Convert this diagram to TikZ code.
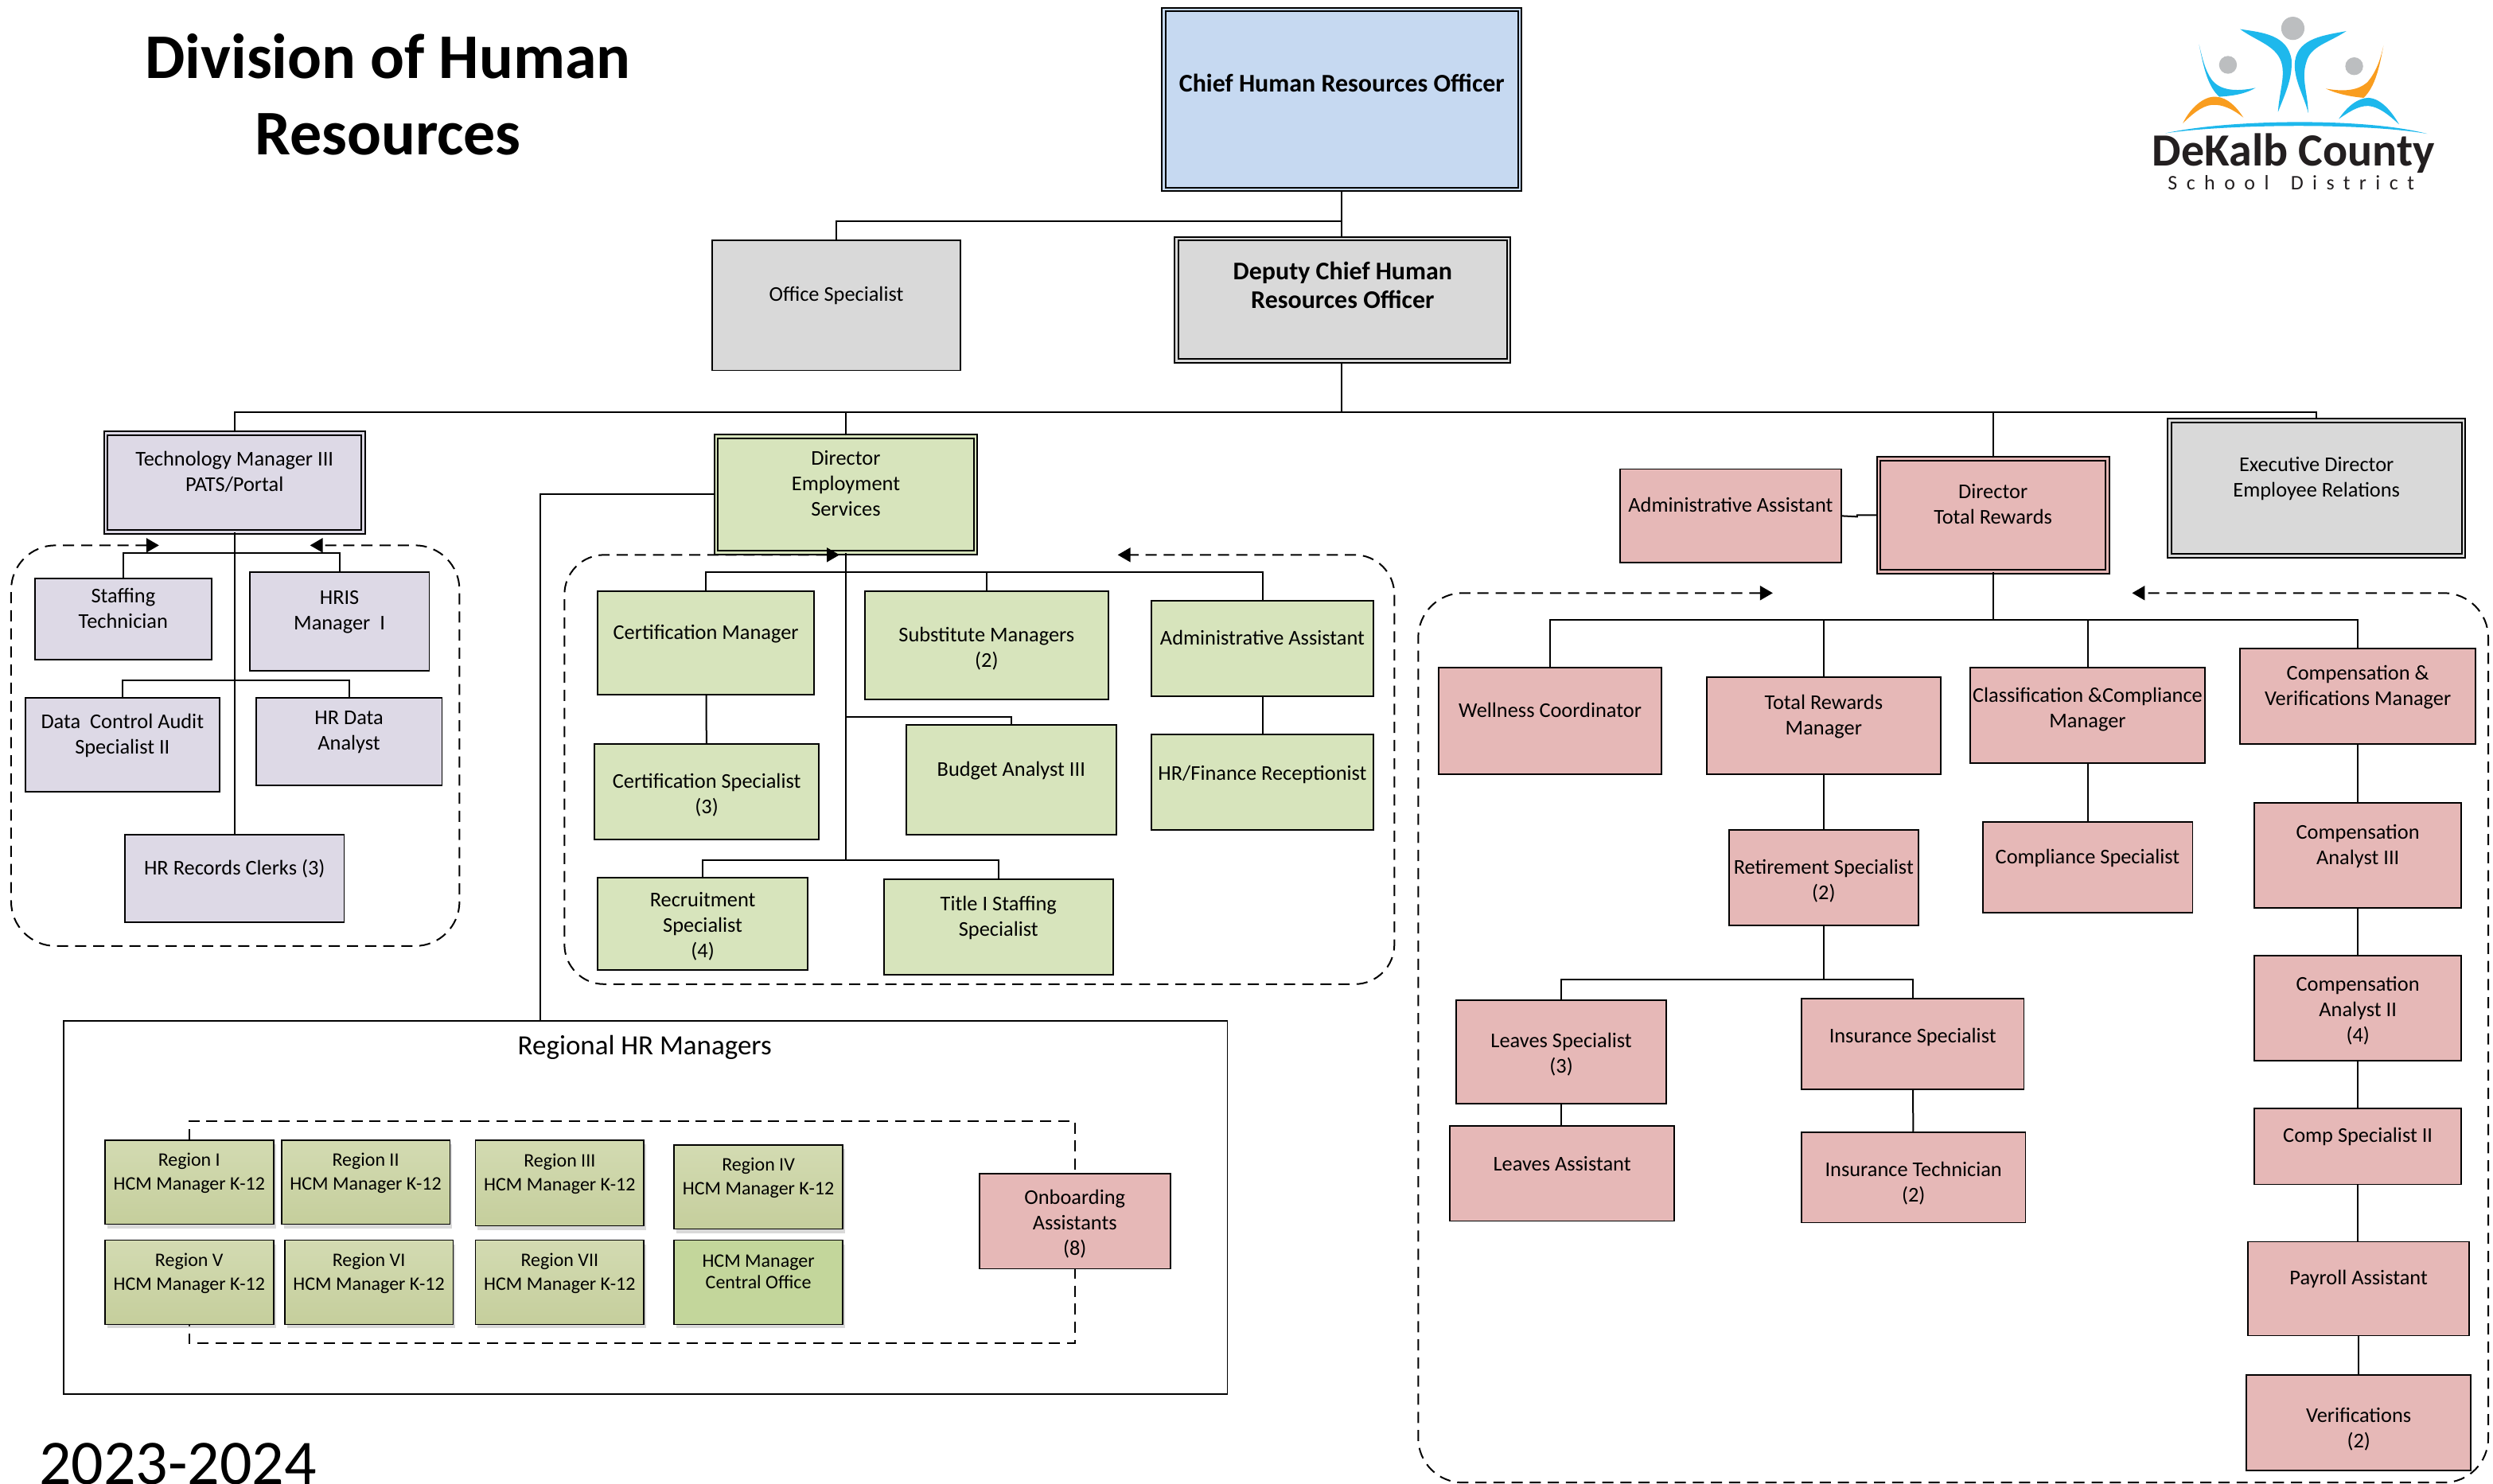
\documentclass[tikz,border=0pt]{standalone}
\usepackage{fontspec}
\setmainfont{Carlito}
\newfontfamily\logosmall[LetterSpace=44]{Carlito}
\usetikzlibrary{arrows.meta, positioning, shadows}
\definecolor{purplefill}{HTML}{DDD9E6}
\definecolor{greenfill}{HTML}{D7E4BC}
\definecolor{pinkfill}{HTML}{E6B8B7}
\definecolor{grayfill}{HTML}{D9D9D9}
\definecolor{bluefill}{HTML}{C6D9F1}
\definecolor{regiontop}{HTML}{D3DBB2}
\definecolor{regionbot}{HTML}{C5CE9C}
\definecolor{centralfill}{HTML}{C3D69B}
\definecolor{logoblue}{HTML}{1EB8EC}
\definecolor{logoorange}{HTML}{F99D1F}
\definecolor{logogray}{HTML}{BCBEC0}
\definecolor{logoink}{HTML}{231F20}
\newcommand{\tailline}{\\[-2pt]~}
\newcommand{\noline}{\\[-18pt]~}
\tikzset{>={Triangle[length=8pt,width=9pt]},
	box/.style={draw, line width=.9pt, inner sep=0pt, align=center, font=\fontsize{13.2}{16}\selectfont},
	purplebox/.style={box, fill=purplefill},
	greenbox/.style={box, fill=greenfill},
	pinkbox/.style={box, fill=pinkfill},
	graybox/.style={box, fill=grayfill},
	bluebox/.style={box, fill=bluefill},
	headbox/.style={double=#1, double distance=1.2pt, line width=1pt},
	regionbox/.style={box, top color=regiontop, bottom color=regionbot, font=\fontsize{12}{15}\selectfont, drop shadow={shadow xshift=1.5pt, shadow yshift=-2.5pt, fill=gray, opacity=.3}},
	link/.style={line width=1pt},
	dashline/.style={line width=1pt, dash pattern=on 7pt off 4.4pt},
}

\begin{document}
\begin{tikzpicture}[x=1pt, y=-1pt]
	\useasboundingbox (0,0) rectangle (1568,933);

	\node[align=center, font=\fontsize{40}{48}\selectfont\bfseries] (title) at (244,59.5) {Division of Human\\Resources};
	\node[anchor=base west, font=\fontsize{40}{40}\selectfont] (year) at (21,933.5) {2023-2024};

	%top of the chart
	\node[bluebox, headbox=bluefill, minimum width=224, minimum height=113, font=\fontsize{16}{18}\selectfont\bfseries] (chief) at (844,62.5) {Chief Human Resources Officer\\[3pt]~};
	\node[graybox, minimum width=156, minimum height=82] (office) at (526,192) {Office Specialist\tailline};
	\node[graybox, headbox=grayfill, minimum width=209, minimum height=77, font=\fontsize{16}{18}\selectfont\bfseries] (deputy) at (844.5,188.5) {Deputy Chief Human\\Resources Officer\\~};
	\coordinate (busA) at (844,139);
	\coordinate (busB) at (844,259);
	\draw[link] (chief.south) |- (busA) -- (deputy.north -| busA);
	\draw[link] (office.north) |- (busA);
	\draw[link] (deputy.south -| busB) -- (busB);

	%technology
	\node[purplebox, headbox=purplefill, minimum width=162, minimum height=62] (tech) at (147.5,303.5) {Technology Manager III\\PATS/Portal\tailline};
	\node[purplebox, minimum width=111, minimum height=51] (staffing) at (77.5,389.5) {Staffing\\Technician\tailline};
	\node[purplebox, minimum width=113, minimum height=62] (hris) at (213.5,391) {HRIS\\Manager~ I\tailline};
	\node[purplebox, minimum width=122, minimum height=59] (audit) at (77,468.5) {Data~ Control Audit\\Specialist II\tailline};
	\node[purplebox, minimum width=117, minimum height=55] (hrdata) at (219.5,466.5) {HR Data\\Analyst\tailline};
	\node[purplebox, minimum width=138, minimum height=55] (clerks) at (147.5,552.5) {HR Records Clerks (3)\tailline};
	\coordinate (busC) at (147.5,348);
	\coordinate (busD) at (147.5,428);
	\draw[link] (tech.north) |- (busB);
	\draw[link] (tech) -- (clerks);
	\draw[link] (staffing.north) |- (busC);
	\draw[link] (hris.north) |- (busC);
	\draw[link] (audit.north) |- (busD);
	\draw[link] (hrdata.north) |- (busD);
	\draw[dashline, rounded corners=28pt, <->] (100,343) -- (7,343) -- (7,595) -- (289,595) -- (289,343) -- (195,343);

	%employment services
	\node[greenbox, headbox=greenfill, minimum width=163, minimum height=73] (diremp) at (532,311) {Director\\Employment\\Services\tailline};
	\node[greenbox, minimum width=136, minimum height=65] (certmgr) at (444,404.5) {Certification Manager\tailline};
	\node[greenbox, minimum width=153, minimum height=68] (subst) at (620.5,406) {Substitute Managers\\(2)\noline};
	\node[greenbox, minimum width=140, minimum height=60] (adminemp) at (794,408) {Administrative Assistant\tailline};
	\node[greenbox, minimum width=141, minimum height=60] (certspec) at (444.5,498) {Certification Specialist\\(3)\noline};
	\node[greenbox, minimum width=132, minimum height=69] (budget) at (636,490.5) {Budget Analyst III\tailline};
	\node[greenbox, minimum width=140, minimum height=60] (finance) at (794,492) {HR/Finance Receptionist\\[-4pt]~};
	\node[greenbox, minimum width=132, minimum height=58] (recruit) at (442,581) {Recruitment\\Specialist\\(4)\noline};
	\node[greenbox, minimum width=144, minimum height=60] (titleone) at (628,583) {Title I Staffing\\Specialist\tailline};
	\coordinate (busE) at (532,360);
	\coordinate (busF) at (532,451);
	\coordinate (busG) at (532,541);
	\draw[link] (diremp.north) |- (busB);
	\draw[link] (diremp.south) -- (busG);
	\draw[link] (certmgr.north) |- (busE);
	\draw[link] (subst.north) |- (busE);
	\draw[link] (adminemp.north) |- (busE);
	\draw[link] (budget.north) |- (busF);
	\draw[link] (recruit.north) |- (busG);
	\draw[link] (titleone.north) |- (busG);
	\draw[link] (certmgr) -- (certspec);
	\draw[link] (adminemp) -- (finance);
	\draw[dashline, rounded corners=25pt, <->] (528,349) -- (355,349) -- (355,619) -- (877,619) -- (877,349) -- (703,349);

	%regional managers
	\node[draw, line width=.9pt, minimum width=732, minimum height=235] (regional) at (406,759.5) {};
	\node[font=\fontsize{17.5}{18}\selectfont] (reglabel) at (405.5,659) {Regional HR Managers};
	\coordinate (regtop) at (340,642);
	\draw[link] (diremp.west) -| (regtop);
	\draw[dashline] (119,717) -- (119,705) -- (676,705) -- (676,845) -- (119,845) -- (119,833);
	\node[regionbox, minimum width=106, minimum height=53] (regone) at (119,743.5) {Region I\\HCM Manager K-12\\[-2pt]~};
	\node[regionbox, minimum width=106, minimum height=53] (regtwo) at (230,743.5) {Region II\\HCM Manager K-12\\[-2pt]~};
	\node[regionbox, minimum width=106, minimum height=54] (regthree) at (352,744) {Region III\\HCM Manager K-12\\[-2pt]~};
	\node[regionbox, minimum width=106, minimum height=53] (regfour) at (477,746.5) {Region IV\\HCM Manager K-12\\[-2pt]~};
	\node[regionbox, minimum width=106, minimum height=53] (regfive) at (119,806.5) {Region V\\HCM Manager K-12\\[-2pt]~};
	\node[regionbox, minimum width=106, minimum height=53] (regsix) at (232,806.5) {Region VI\\HCM Manager K-12\\[-2pt]~};
	\node[regionbox, minimum width=106, minimum height=53] (regseven) at (352,806.5) {Region VII\\HCM Manager K-12\\[-2pt]~};
	\node[regionbox, top color=centralfill, bottom color=centralfill, minimum width=106, minimum height=53, font=\fontsize{12}{13.5}\selectfont] (central) at (477,806.5) {HCM Manager\\Central Office\\~};
	\node[pinkbox, minimum width=120, minimum height=60] (onboard) at (676,768) {Onboarding\\Assistants\\(8)\noline};

	%total rewards
	\node[pinkbox, minimum width=139, minimum height=59] (adminrew) at (1088.5,324.5) {Administrative Assistant\tailline};
	\node[pinkbox, headbox=pinkfill, minimum width=144, minimum height=71] (dirrew) at (1253.5,324) {Director\\Total Rewards\tailline};
	\node[graybox, headbox=grayfill, minimum width=185, minimum height=85] (exec) at (1457,307) {Executive Director\\Employee Relations\tailline};
	\node[pinkbox, minimum width=140, minimum height=67] (wellness) at (975,453.5) {Wellness Coordinator\tailline};
	\node[pinkbox, minimum width=147, minimum height=61] (rewmgr) at (1147,456.5) {Total Rewards\\Manager\tailline};
	\node[pinkbox, minimum width=148, minimum height=60] (classmgr) at (1313,450) {Classification \&Compliance\\Manager\\[-6pt]~};
	\node[pinkbox, minimum width=148, minimum height=60] (compver) at (1483,438) {Compensation \&\\Verifications Manager\tailline};
	\node[pinkbox, minimum width=119, minimum height=60] (retire) at (1147,552) {Retirement Specialist\\(2)\noline};
	\node[pinkbox, minimum width=132, minimum height=57] (comply) at (1313,545.5) {Compliance Specialist\tailline};
	\node[pinkbox, minimum width=130, minimum height=66] (analystthree) at (1483,538) {Compensation\\Analyst III\tailline};
	\node[pinkbox, minimum width=130, minimum height=66] (analysttwo) at (1483,634) {Compensation\\Analyst II\\(4)\noline};
	\node[pinkbox, minimum width=130, minimum height=48] (compspec) at (1483,721) {Comp Specialist II\tailline};
	\node[pinkbox, minimum width=139, minimum height=59] (payroll) at (1483.5,810.5) {Payroll Assistant\tailline};
	\node[pinkbox, minimum width=141, minimum height=60] (verif) at (1483.5,895) {Verifications\\(2)\\[-22pt]~};
	\node[pinkbox, minimum width=132, minimum height=65] (leaves) at (982,661.5) {Leaves Specialist\\(3)\noline};
	\node[pinkbox, minimum width=140, minimum height=57] (insure) at (1203,656.5) {Insurance Specialist\\[-6pt]~};
	\node[pinkbox, minimum width=141, minimum height=60] (leavesast) at (982.5,738) {Leaves Assistant\\[-4pt]~};
	\node[pinkbox, minimum width=141, minimum height=57] (instech) at (1203.5,740.5) {Insurance Technician\\(2)\\[-22pt]~};
	\coordinate (busH) at (1253.5,390);
	\coordinate (busI) at (1147,616);
	\coordinate (stepA) at (1168,325);
	\draw[link] (dirrew.north) |- (busB);
	\draw[link] (exec.north) |- (busB);
	\draw[link] (adminrew.east) -- (stepA) |- (dirrew.west);
	\draw[link] (dirrew.south) -- (busH);
	\draw[link] (wellness.north) |- (busH);
	\draw[link] (rewmgr.north) |- (busH);
	\draw[link] (classmgr.north) |- (busH);
	\draw[link] (compver.north) |- (busH);
	\draw[link] (rewmgr) -- (retire);
	\draw[link] (retire) -- (busI);
	\draw[link] (leaves.north) |- (busI);
	\draw[link] (insure.north) |- (busI);
	\draw[link] (leaves.south) -- (leaves.south |- leavesast.north);
	\draw[link] (insure) -- (instech);
	\draw[link] (classmgr) -- (comply);
	\draw[link] (compver) -- (analystthree);
	\draw[link] (analystthree) -- (analysttwo);
	\draw[link] (analysttwo) -- (compspec);
	\draw[link] (compspec) -- (compspec |- payroll.north);
	\draw[link] (payroll) -- (verif);
	\draw[dashline, rounded corners=28pt, <->] (1115,373) -- (892,373) -- (892,932.5) -- (1565,932.5) -- (1565,373) -- (1341,373);

	%logo
	\begin{scope}[shift={(1301,0)}, x=.17pt, y=-.17pt]
		\fill[logogray] (830,105) circle [radius=43];
		\fill[logogray] (590,240) circle [radius=33];
		\fill[logogray] (1057,245) circle [radius=33];
		\fill[logoblue] (635,108) .. controls (720,120) and (810,130) .. (825,220) .. controls (830,290) and (800,350) .. (775,415) .. controls (780,340) and (800,290) .. (790,240) .. controls (775,170) and (700,155) .. (635,108);
		\fill[logoblue] (1028,115) .. controls (950,130) and (850,140) .. (838,225) .. controls (830,290) and (870,350) .. (887,418) .. controls (885,340) and (860,290) .. (880,230) .. controls (895,170) and (960,160) .. (1028,115);
		\fill[logoblue] (483,165) .. controls (500,250) and (515,320) .. (558,358) .. controls (600,355) and (650,350) .. (692,325) .. controls (620,340) and (560,335) .. (530,295) .. controls (505,260) and (495,215) .. (483,165);
		\fill[logoorange] (423,456) .. controls (450,400) and (500,355) .. (545,358) .. controls (590,360) and (625,400) .. (647,435) .. controls (610,405) and (570,385) .. (530,388) .. controls (490,392) and (450,430) .. (423,456);
		\fill[logoorange] (1165,170) .. controls (1150,250) and (1135,320) .. (1092,362) .. controls (1050,358) and (1000,350) .. (952,328) .. controls (1020,340) and (1070,335) .. (1105,305) .. controls (1140,265) and (1155,215) .. (1165,170);
		\fill[logoblue] (1000,440) .. controls (1030,395) and (1070,362) .. (1110,362) .. controls (1160,365) and (1200,420) .. (1223,460) .. controls (1190,430) and (1150,395) .. (1110,392) .. controls (1070,390) and (1030,420) .. (1000,440);
		\fill[logoblue] (358,493) .. controls (600,440) and (1100,435) .. (1327,495) .. controls (1100,455) and (600,458) .. (358,493);
	\end{scope}
	\node[anchor=base, text=logoink, font=\fontsize{29}{29}\selectfont\bfseries] (logoname) at (1442.5,104.6) {DeKalb County};
	\node[anchor=base, text=logoink, font=\fontsize{13}{13}\selectfont\logosmall] (logosub) at (1441,119.5) {School\hspace{5pt} District};
\end{tikzpicture}
\end{document}
